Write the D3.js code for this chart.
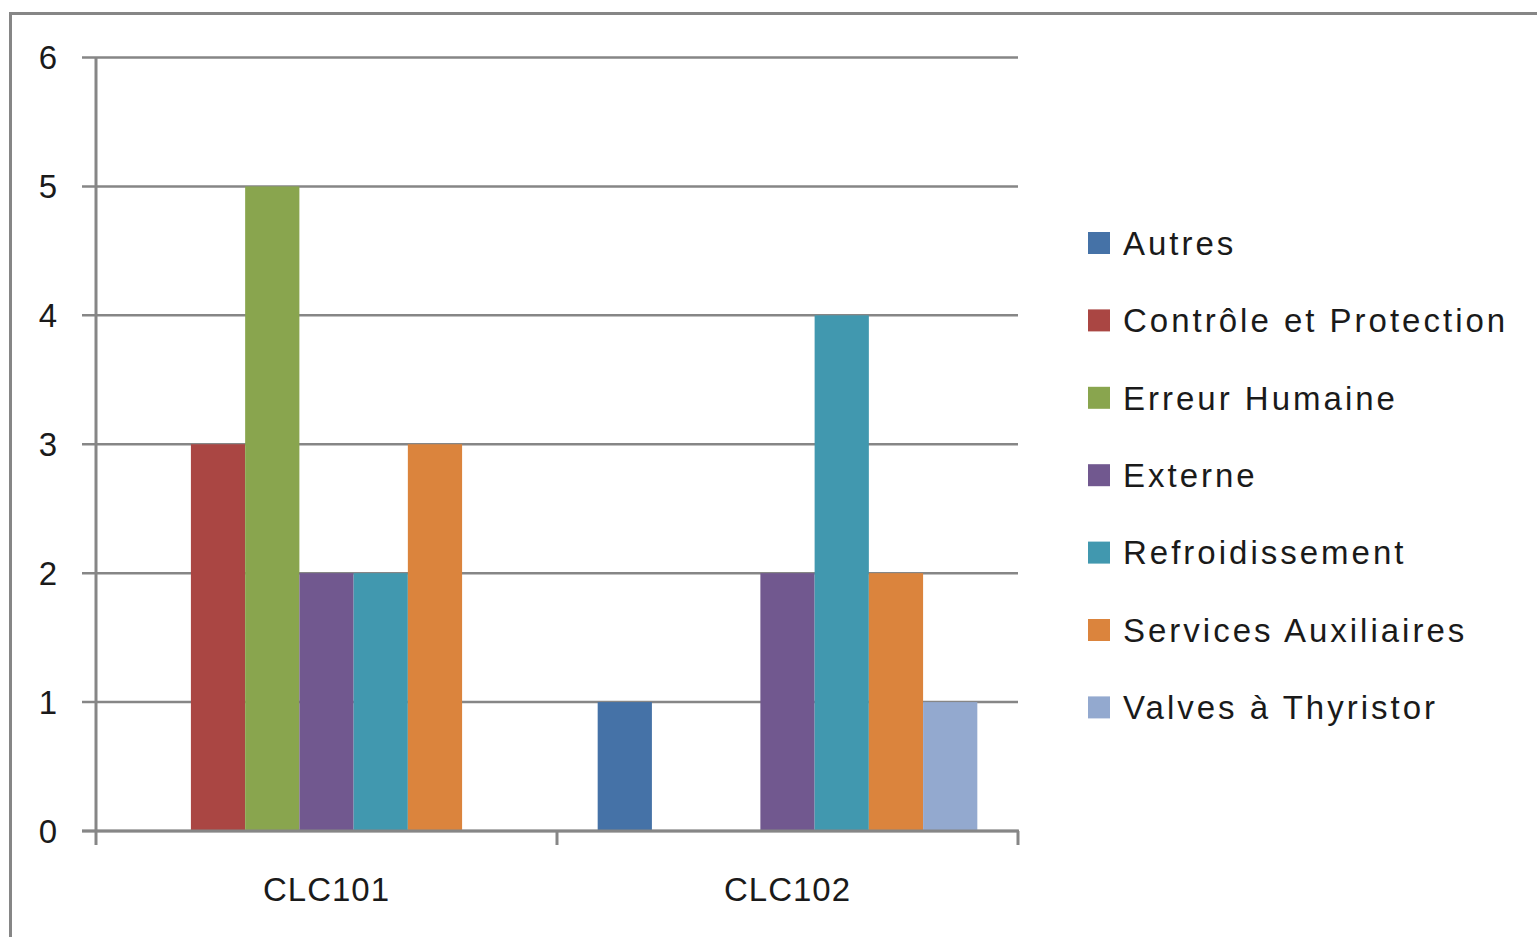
<!DOCTYPE html>
<html>
<head>
<meta charset="utf-8">
<script src="https://cdn.jsdelivr.net/npm/d3@7"></script>
<style>
  html, body { margin: 0; padding: 0; background: #fff; }
  svg { display: block; }
  text { font-family: "Liberation Sans", Arial, sans-serif; fill: #1a1a1a; }
</style>
</head>
<body>
<svg id="chart" width="1537" height="937"></svg>
<script>
// Incidents per cause, for each converter station
const categories = ["CLC101", "CLC102"];
const seriesNames = ["Autres", "Contrôle et Protection", "Erreur Humaine", "Externe",
                     "Refroidissement", "Services Auxiliaires", "Valves à Thyristor"];
const clc101Values = [0, 3, 5, 2, 2, 3, 0];
const clc102Values = [1, 0, 0, 2, 4, 2, 1];
const yTicks = [0, 1, 2, 3, 4, 5, 6];
const seriesColors = ["#4572A7", "#AA4643", "#89A54E", "#71588F", "#4198AF", "#DB843D", "#93A9CF"];

const valuesByCategory = [clc101Values, clc102Values];

const svg = d3.select("#chart");
const gridColor = "#868686";

// chart frame
svg.append("rect")
  .attr("x", 10.5).attr("y", 13.5)
  .attr("width", 1540).attr("height", 940)
  .attr("fill", "none").attr("stroke", gridColor).attr("stroke-width", 3);

const plot = { left: 96, right: 1018, top: 57.5, bottom: 831 };

const x0 = d3.scaleBand()
  .domain(categories)
  .range([plot.left, plot.right])
  .paddingInner(0).paddingOuter(0);

// Excel-like gap: 1.5 bar widths shared between group sides
const x1 = d3.scaleBand()
  .domain(seriesNames)
  .range([0, x0.bandwidth()])
  .paddingInner(0)
  .paddingOuter(0.75);

const y = d3.scaleLinear().domain([0, 6]).range([plot.bottom, plot.top]);

// horizontal gridlines
svg.append("g").selectAll("line")
  .data(yTicks)
  .join("line")
  .attr("x1", plot.left - 14).attr("x2", plot.right)
  .attr("y1", d => y(d)).attr("y2", d => y(d))
  .attr("stroke", gridColor).attr("stroke-width", 2.5);

// bars
const groups = svg.append("g").selectAll("g")
  .data(categories)
  .join("g")
  .attr("transform", d => `translate(${x0(d)},0)`);

groups.selectAll("rect")
  .data((c, i) => seriesNames.map((s, j) => ({ s, j, v: valuesByCategory[i][j] })))
  .join("rect")
  .attr("x", d => x1(d.s))
  .attr("width", x1.bandwidth())
  .attr("y", d => y(d.v))
  .attr("height", d => y(0) - y(d.v))
  .attr("fill", d => seriesColors[d.j]);

// value axis line
svg.append("line")
  .attr("x1", plot.left).attr("x2", plot.left)
  .attr("y1", plot.top).attr("y2", plot.bottom)
  .attr("stroke", gridColor).attr("stroke-width", 3);

// category axis line and tick marks
svg.append("line")
  .attr("x1", plot.left - 14).attr("x2", plot.right + 1)
  .attr("y1", plot.bottom).attr("y2", plot.bottom)
  .attr("stroke", gridColor).attr("stroke-width", 3);

const catBounds = categories.map(c => x0(c)).concat([x0.range()[1]]);
svg.append("g").selectAll("line")
  .data(catBounds)
  .join("line")
  .attr("x1", d => d).attr("x2", d => d)
  .attr("y1", plot.bottom).attr("y2", plot.bottom + 14)
  .attr("stroke", gridColor).attr("stroke-width", 3);

// y tick labels
svg.append("g").selectAll("text")
  .data(yTicks)
  .join("text")
  .attr("x", 48).attr("y", d => y(d))
  .attr("dy", "0.36em")
  .attr("text-anchor", "middle")
  .attr("font-size", 33)
  .text(d => d);

// category labels
svg.append("g").selectAll("text")
  .data(categories)
  .join("text")
  .attr("x", d => x0(d) + x0.bandwidth() / 2)
  .attr("y", plot.bottom + 58)
  .attr("dy", "0.36em")
  .attr("text-anchor", "middle")
  .attr("font-size", 33)
  .attr("letter-spacing", 1)
  .text(d => d);

// legend
const legend = svg.append("g").selectAll("g")
  .data(seriesNames)
  .join("g")
  .attr("transform", (d, i) => `translate(1088,${243 + i * 77.4})`);

legend.append("rect")
  .attr("x", 0).attr("y", -11)
  .attr("width", 22).attr("height", 22)
  .attr("fill", (d, i) => seriesColors[i]);

legend.append("text")
  .attr("x", 35).attr("y", 0)
  .attr("dy", "0.36em")
  .attr("font-size", 33)
  .attr("letter-spacing", 3)
  .text(d => d);
</script>
</body>
</html>
